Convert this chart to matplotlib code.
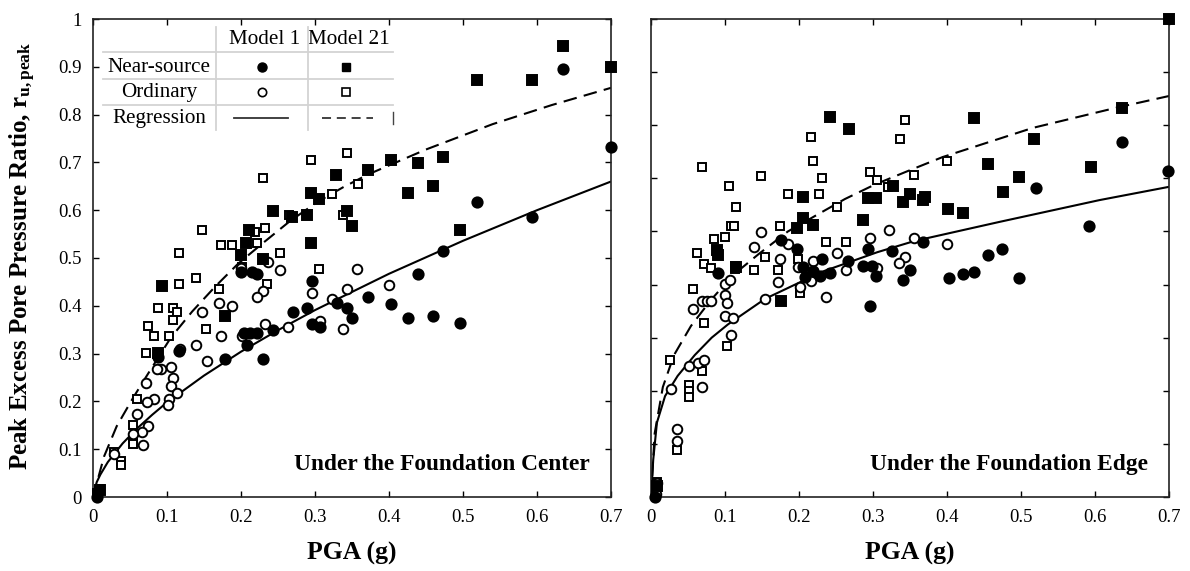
import matplotlib
matplotlib.use("Agg")
import matplotlib.pyplot as plt
from matplotlib.lines import Line2D
import numpy as np

plt.rcParams['font.family'] = ['Liberation Serif', 'DejaVu Serif']
plt.rcParams['mathtext.fontset'] = 'custom'
plt.rcParams['mathtext.rm'] = 'Liberation Serif'
plt.rcParams['mathtext.it'] = 'Liberation Serif:italic'
plt.rcParams['mathtext.bf'] = 'Liberation Serif:bold'

# ---------------- DATA ----------------
# Left panel: Under the Foundation Center
c_m1_near = [(0.7,0.733),(0.635,0.896),(0.593,0.585),(0.519,0.617),(0.473,0.515),(0.439,0.467),
             (0.371,0.419),(0.403,0.404),(0.426,0.375),(0.459,0.379),(0.496,0.365),
             (0.2,0.471),(0.215,0.471),(0.222,0.467),(0.296,0.452),(0.27,0.388),(0.289,0.396),
             (0.33,0.406),(0.343,0.396),(0.35,0.375),(0.296,0.362),(0.307,0.356),(0.243,0.35),
             (0.088,0.292),(0.116,0.306),(0.178,0.288),(0.23,0.288),(0.208,0.317),(0.204,0.344),
             (0.212,0.344),(0.222,0.344),(0.005,0.0)]
c_m1_ord = [(0.4,0.444),(0.357,0.477),(0.236,0.492),(0.253,0.475),(0.296,0.427),(0.343,0.435),
            (0.23,0.431),(0.222,0.419),(0.323,0.414),(0.17,0.406),(0.188,0.4),(0.147,0.388),
            (0.232,0.362),(0.307,0.369),(0.338,0.352),(0.264,0.356),(0.2,0.48),
            (0.173,0.336),(0.201,0.336),(0.139,0.319),(0.117,0.31),(0.154,0.284),(0.105,0.271),
            (0.092,0.267),(0.086,0.267),(0.108,0.248),(0.105,0.232),(0.113,0.218),(0.103,0.206),
            (0.101,0.192),(0.072,0.239),(0.082,0.204),(0.073,0.198),(0.059,0.173),(0.074,0.148),
            (0.066,0.135),(0.068,0.108),(0.054,0.131),(0.028,0.09),(0.007,0.01)]
c_m21_near = [(0.635,0.944),(0.519,0.873),(0.593,0.873),(0.7,0.9),(0.372,0.685),(0.403,0.706),
              (0.439,0.698),(0.473,0.712),(0.426,0.637),(0.459,0.65),(0.496,0.558),
              (0.328,0.673),(0.295,0.637),(0.305,0.623),(0.243,0.598),(0.269,0.585),(0.289,0.59),
              (0.343,0.598),(0.35,0.567),(0.211,0.558),(0.207,0.531),(0.295,0.531),(0.2,0.506),
              (0.23,0.498),(0.093,0.442),(0.178,0.379),(0.088,0.302),(0.01,0.015)]
c_m21_ord = [(0.295,0.706),(0.343,0.72),(0.23,0.667),(0.358,0.654),(0.323,0.633),(0.265,0.59),
             (0.338,0.59),(0.147,0.558),(0.219,0.554),(0.232,0.562),(0.173,0.527),(0.188,0.527),
             (0.222,0.531),(0.116,0.51),(0.253,0.51),(0.201,0.481),(0.305,0.477),(0.139,0.458),
             (0.116,0.446),(0.235,0.446),(0.17,0.435),(0.088,0.396),(0.108,0.396),(0.114,0.388),
             (0.108,0.371),(0.074,0.358),(0.153,0.352),(0.082,0.336),(0.103,0.336),(0.072,0.302),
             (0.059,0.204),(0.054,0.15),(0.054,0.123),(0.054,0.11),(0.038,0.075),(0.038,0.067),
             (0.028,0.094),(0.009,0.017),(0.006,0.008)]
# regression curves (center)
c_reg1_x = [0, 0.005, 0.01, 0.02, 0.04, 0.06, 0.08, 0.1, 0.15, 0.2, 0.25, 0.3, 0.4, 0.5, 0.6, 0.7]
c_reg1_y = [0, 0.031, 0.047, 0.073, 0.112, 0.144, 0.172, 0.198, 0.254, 0.304, 0.349, 0.391, 0.467, 0.536, 0.600, 0.66]
c_reg21_x = [0, 0.015, 0.032, 0.054, 0.072, 0.105, 0.134, 0.165, 0.196, 0.231, 0.266, 0.303, 0.338, 0.372, 0.45, 0.54, 0.62, 0.7]
c_reg21_y = [0, 0.085, 0.148, 0.207, 0.252, 0.333, 0.388, 0.44, 0.488, 0.533, 0.577, 0.617, 0.648, 0.675, 0.727, 0.78, 0.82, 0.856]

# Right panel: Under the Foundation Edge
e_m1_near = [(0.636,0.668),(0.698,0.614),(0.52,0.582),(0.592,0.51),(0.403,0.412),(0.422,0.42),
             (0.437,0.424),(0.456,0.456),(0.474,0.467),(0.497,0.412),(0.368,0.48),(0.35,0.427),
             (0.34,0.409),(0.175,0.484),(0.197,0.467),(0.09,0.422),(0.205,0.433),(0.208,0.414),
             (0.219,0.426),(0.228,0.416),(0.231,0.448),(0.242,0.422),(0.266,0.444),(0.286,0.435),
             (0.298,0.435),(0.293,0.467),(0.304,0.416),(0.325,0.463),(0.296,0.36),(0.005,0.0)]
e_m1_ord = [(0.355,0.488),(0.4,0.476),(0.343,0.452),(0.148,0.499),(0.139,0.471),(0.185,0.476),
            (0.174,0.448),(0.198,0.433),(0.219,0.444),(0.252,0.46),(0.264,0.428),(0.296,0.488),
            (0.321,0.503),(0.306,0.431),(0.335,0.441),(0.216,0.407),(0.171,0.405),(0.154,0.373),
            (0.236,0.377),(0.201,0.395),(0.1,0.401),(0.107,0.409),(0.1,0.38),(0.103,0.365),
            (0.069,0.369),(0.076,0.369),(0.081,0.369),(0.057,0.354),(0.1,0.341),(0.111,0.337),
            (0.108,0.305),(0.051,0.247),(0.063,0.252),(0.072,0.258),(0.027,0.203),(0.069,0.207),
            (0.035,0.128),(0.035,0.106),(0.008,0.026),(0.007,0.006)]
e_m21_near = [(0.7,0.9),(0.437,0.714),(0.518,0.674),(0.636,0.733),(0.456,0.627),(0.497,0.603),
              (0.594,0.621),(0.475,0.574),(0.35,0.571),(0.37,0.565),(0.402,0.542),(0.422,0.535),
              (0.368,0.559),(0.34,0.556),(0.242,0.716),(0.267,0.693),(0.327,0.586),(0.205,0.565),
              (0.293,0.563),(0.304,0.563),(0.286,0.522),(0.197,0.507),(0.206,0.525),(0.219,0.512),
              (0.089,0.465),(0.09,0.456),(0.115,0.433),(0.175,0.369),(0.008,0.02)]
e_m21_ord = [(0.343,0.71),(0.336,0.674),(0.4,0.633),(0.355,0.606),(0.069,0.621),(0.105,0.586),
             (0.148,0.605),(0.216,0.678),(0.219,0.633),(0.231,0.601),(0.296,0.612),(0.306,0.597),
             (0.185,0.571),(0.227,0.571),(0.32,0.584),(0.115,0.546),(0.108,0.51),(0.112,0.51),
             (0.174,0.51),(0.085,0.486),(0.1,0.49),(0.252,0.546),(0.236,0.48),(0.264,0.48),
             (0.062,0.46),(0.072,0.439),(0.081,0.431),(0.113,0.435),(0.113,0.429),(0.154,0.452),
             (0.139,0.428),(0.171,0.428),(0.198,0.448),(0.201,0.392),(0.201,0.384),(0.057,0.392),
             (0.072,0.328),(0.026,0.258),(0.069,0.237),(0.103,0.284),(0.051,0.211),(0.051,0.2),
             (0.051,0.188),(0.035,0.089),(0.008,0.028)]
e_reg1_x = [0, 0.003, 0.008, 0.019, 0.036, 0.059, 0.082, 0.104, 0.154, 0.231, 0.306, 0.356, 0.471, 0.606, 0.7]
e_reg1_y = [0, 0.07, 0.14, 0.19, 0.228, 0.267, 0.300, 0.325, 0.373, 0.424, 0.461, 0.482, 0.518, 0.559, 0.584]
e_reg21_x = [0, 0.005, 0.016, 0.031, 0.054, 0.081, 0.111, 0.146, 0.185, 0.224, 0.262, 0.302, 0.344, 0.394, 0.516, 0.629, 0.7]
e_reg21_y = [0, 0.12, 0.207, 0.267, 0.322, 0.371, 0.418, 0.458, 0.5, 0.531, 0.561, 0.588, 0.612, 0.64, 0.695, 0.733, 0.755]

x_ticks = [0, 0.1, 0.2, 0.3, 0.4, 0.5, 0.6, 0.7]
x_tick_labels = ['0', '0.1', '0.2', '0.3', '0.4', '0.5', '0.6', '0.7']
y_ticks_left = [0, 0.1, 0.2, 0.3, 0.4, 0.5, 0.6, 0.7, 0.8, 0.9, 1.0]
y_tick_labels_left = ['0', '0.1', '0.2', '0.3', '0.4', '0.5', '0.6', '0.7', '0.8', '0.9', '1']
y_ticks_right = [0, 0.1, 0.2, 0.3, 0.4, 0.5, 0.6, 0.7, 0.8, 0.9]
panel_titles = ['Under the Foundation Center', 'Under the Foundation Edge']

# ---------------- FIGURE ----------------
fig = plt.figure(figsize=(11.9, 5.71), dpi=100)
axL = fig.add_axes([93/1190, 74/571, 518/1190, 478/571])
axR = fig.add_axes([651/1190, 74/571, 518/1190, 478/571])

DASH = (0, (6.5, 3.5))

def draw_panel(ax, m1n, m1o, m21n, m21o, r1x, r1y, r21x, r21y):
    ax.plot(r1x, r1y, color='black', lw=1.5, solid_capstyle='butt')
    ax.plot(r21x, r21y, color='black', lw=1.5, linestyle=DASH)
    for pts, mk, fc, ms in [(m21o, 's', 'white', 6.4), (m1o, 'o', 'white', 6.9),
                            (m21n, 's', 'black', 6.8), (m1n, 'o', 'black', 7.4)]:
        a = np.array(pts)
        ax.plot(a[:, 0], a[:, 1], linestyle='none', marker=mk, markersize=ms,
                markerfacecolor=fc, markeredgecolor='black', markeredgewidth=1.4,
                clip_on=False, zorder=3)
    ax.set_xlim(0, 0.7)
    ax.set_xticks(x_ticks)
    ax.set_xticklabels(x_tick_labels)
    ax.tick_params(direction='in', top=True, right=True, length=4.5, width=1.0,
                   labelsize=13.5, pad=8, colors='black')
    ax.tick_params(axis='x', pad=9)
    for s in ax.spines.values():
        s.set_linewidth(1.2)
        s.set_color('#222222')
    ax.text(0.5, -0.118, 'PGA (g)', transform=ax.transAxes, ha='center', va='center',
            fontsize=18.5, fontweight='bold')

draw_panel(axL, c_m1_near, c_m1_ord, c_m21_near, c_m21_ord, c_reg1_x, c_reg1_y, c_reg21_x, c_reg21_y)
axL.set_ylim(0, 1)
axL.set_yticks(y_ticks_left)
axL.set_yticklabels(y_tick_labels_left)

draw_panel(axR, e_m1_near, e_m1_ord, e_m21_near, e_m21_ord, e_reg1_x, e_reg1_y, e_reg21_x, e_reg21_y)
axR.set_ylim(0, 0.9)
axR.set_yticks(y_ticks_right)
axR.set_yticklabels([])

for ax, t in zip([axL, axR], panel_titles):
    ax.text(0.959, 0.069, t, transform=ax.transAxes, ha='right', va='center',
            fontsize=16.8, fontweight='bold')

fig.text(23/1190, (571-256)/571, r'Peak Excess Pore Pressure Ratio, $\mathbf{r}_{\mathbf{u,peak}}$',
         rotation=90, ha='center', va='center', fontsize=18, fontweight='bold')

# ---------------- LEGEND TABLE ----------------
T = axL.transAxes
def xf(px): return (px - 93) / 518
def yf(py): return (497 - py) / 478
grid_c = '#d3d3d3'
for px in [216, 308]:
    axL.add_line(Line2D([xf(px), xf(px)], [yf(130), yf(27)], transform=T, color=grid_c, lw=1.3, zorder=5))
for py in [52, 79, 105]:
    axL.add_line(Line2D([xf(103), xf(393)], [yf(py), yf(py)], transform=T, color=grid_c, lw=1.3, zorder=5))
axL.add_line(Line2D([xf(393), xf(393)], [yf(124), yf(112)], transform=T, color='#444444', lw=1.0, zorder=5))
fs_leg = 15.2
axL.text(xf(265), yf(40), 'Model 1', transform=T, ha='center', va='center', fontsize=fs_leg)
axL.text(xf(349), yf(40), 'Model 21', transform=T, ha='center', va='center', fontsize=fs_leg)
for lbl, py in [('Near-source', 67), ('Ordinary', 92), ('Regression', 118)]:
    axL.text(xf(159), yf(py), lbl, transform=T, ha='center', va='center', fontsize=fs_leg)
axL.add_line(Line2D([xf(262)], [yf(67)], transform=T, marker='o', ms=6.5, mfc='black', mec='black', ls='none'))
axL.add_line(Line2D([xf(346)], [yf(67)], transform=T, marker='s', ms=6.0, mfc='black', mec='black', ls='none'))
axL.add_line(Line2D([xf(262)], [yf(92)], transform=T, marker='o', ms=6.0, mfc='white', mec='black', mew=1.2, ls='none'))
axL.add_line(Line2D([xf(346)], [yf(92)], transform=T, marker='s', ms=5.5, mfc='white', mec='black', mew=1.2, ls='none'))
axL.add_line(Line2D([xf(234), xf(288)], [yf(118), yf(118)], transform=T, color='#333333', lw=1.3))
axL.add_line(Line2D([xf(322), xf(373)], [yf(118), yf(118)], transform=T, color='#333333', lw=1.3,
                    linestyle=(0, (5, 3.2))))

fig.savefig('out.png', dpi=100)
